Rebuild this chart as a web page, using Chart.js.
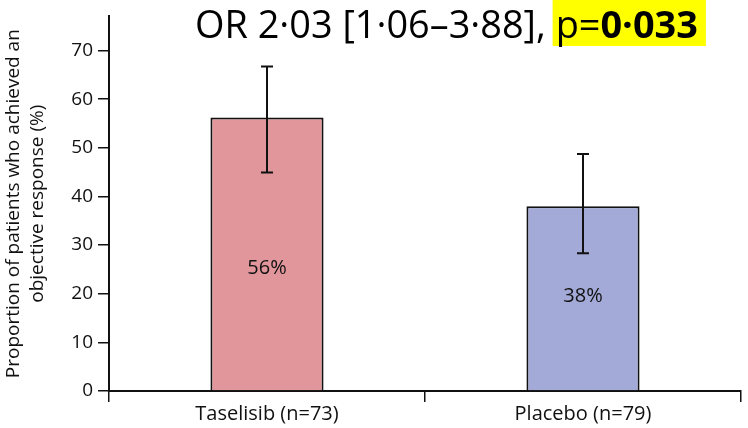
<!DOCTYPE html>
<html>
<head>
<meta charset="utf-8">
<script src="https://cdn.jsdelivr.net/npm/chart.js@4"></script>
<style>
  html, body { margin: 0; padding: 0; background: #fff; }
  #wrap { width: 748px; height: 428px; }
</style>
</head>
<body>
<div id="wrap"><canvas id="orrChart" width="748" height="428"></canvas></div>
<script>
// data
const groups = ["Taselisib (n=73)", "Placebo (n=79)"];
const responseRate = [56.2, 38.0];
const ciLow = [44.9, 28.3];
const ciHigh = [66.7, 48.7];
const valueLabels = ["56%", "38%"];
const barColors = ["#e0969b", "#a3aad8"];
const yTicks = [0, 10, 20, 30, 40, 50, 60, 70];

const titleParts = ["OR 2\u00b703 [1\u00b706\u20133\u00b788], ", "p=", "0\u00b7033"];

const FONT = "'Open Sans', 'Noto Sans', sans-serif";
const INK = "#111";

// error bars + in-bar labels
const barExtras = {
    id: "barExtras",
    afterDatasetsDraw(chart) {
        const { ctx } = chart;
        const y = chart.scales.y;
        const meta = chart.getDatasetMeta(0);
        ctx.save();
        meta.data.forEach((bar, i) => {
            const top = y.getPixelForValue(ciHigh[i]);
            const bot = y.getPixelForValue(ciLow[i]);
            ctx.strokeStyle = INK;
            ctx.lineWidth = 2;
            ctx.beginPath();
            ctx.moveTo(bar.x, top);
            ctx.lineTo(bar.x, bot);
            ctx.moveTo(bar.x - 6, top);
            ctx.lineTo(bar.x + 6, top);
            ctx.moveTo(bar.x - 6, bot);
            ctx.lineTo(bar.x + 6, bot);
            ctx.stroke();

            // label sits a bit under mid-bar
            const ly = y.getPixelForValue([25.2, 19.4][i]);
            ctx.fillStyle = INK;
            ctx.font = "20px " + FONT;
            ctx.textAlign = "center";
            ctx.textBaseline = "middle";
            ctx.fillText(valueLabels[i], bar.x, ly);
        });
        ctx.restore();
    },
};

// OR headline with highlighted p value
const headline = {
    id: "headline",
    afterDraw(chart) {
        const { ctx } = chart;
        const x0 = 195, base = 38, target = 503;
        let size = 32;
        const reg = (s) => `${s}px ${FONT}`;
        const bold = (s) => `bold ${s}px ${FONT}`;
        const measure = (s) => {
            ctx.font = reg(s);
            const a = ctx.measureText(titleParts[0]).width;
            const b = ctx.measureText(titleParts[1]).width;
            ctx.font = bold(s);
            const c = ctx.measureText(titleParts[2]).width;
            return [a, b, c];
        };
        ctx.save();
        let w = measure(size);
        const total = w[0] + w[1] + w[2];
        size = Math.min(38, size * target / total);
        w = measure(size);
        const px = x0 + w[0];
        const end = px + w[1] + w[2];
        ctx.fillStyle = "#ffff00";
        ctx.fillRect(px - 3, 0, end - px + 11, 46);

        ctx.fillStyle = "#000";
        ctx.textBaseline = "alphabetic";
        ctx.textAlign = "left";
        ctx.font = reg(size);
        ctx.fillText(titleParts[0], x0, base);
        ctx.fillText(titleParts[1], px, base);
        ctx.font = bold(size);
        ctx.fillText(titleParts[2], px + w[1], base);
        ctx.restore();
    },
};

new Chart(document.getElementById("orrChart"), {
    type: "bar",
    data: {
        labels: groups,
        datasets: [
            {
                data: responseRate,
                backgroundColor: barColors,
                borderColor: INK,
                borderWidth: 2,
                categoryPercentage: 1,
                barPercentage: 0.358,
            },
        ],
    },
    options: {
        responsive: false,
        animation: false,
        devicePixelRatio: 1,
        layout: { padding: { top: 8, right: 7, left: 0, bottom: 0 } },
        plugins: {
            legend: { display: false },
            tooltip: { enabled: false },
            title: { display: false },
        },
        scales: {
            x: {
                afterFit: (s) => { s.height = 37; },
                grid: {
                    offset: true,
                    drawOnChartArea: false,
                    drawTicks: true,
                    tickLength: 11,
                    tickColor: INK,
                    lineWidth: 1.5,
                },
                border: { display: true, color: INK, width: 2 },
                ticks: {
                    color: INK,
                    padding: 0,
                    font: { family: FONT, size: 20 },
                },
            },
            y: {
                min: 0,
                max: 77,
                afterFit: (s) => { s.width = 109; },
                afterBuildTicks: (s) => {
                    s.ticks = yTicks.map((v) => ({ value: v }));
                },
                grid: {
                    drawOnChartArea: false,
                    drawTicks: true,
                    tickLength: 11,
                    tickColor: INK,
                    lineWidth: 1.5,
                },
                border: { display: true, color: INK, width: 2 },
                ticks: {
                    color: INK,
                    padding: 5,
                    font: { family: FONT, size: 19 },
                },
                title: {
                    display: true,
                    text: ["Proportion of patients who achieved an", "objective response (%)"],
                    color: INK,
                    padding: { top: 2, bottom: 0 },
                    font: { family: FONT, size: 19, lineHeight: 1.26 },
                },
            },
        },
    },
    plugins: [barExtras, headline],
});
</script>
</body>
</html>
